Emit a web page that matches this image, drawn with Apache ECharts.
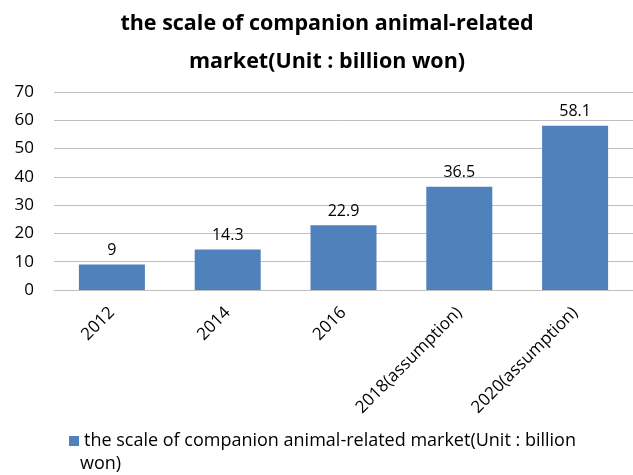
<!DOCTYPE html>
<html><head><meta charset="utf-8">
<script src="https://cdn.jsdelivr.net/npm/echarts@6/dist/echarts.min.js"></script>
<style>html,body{margin:0;padding:0;background:#fff}#c{width:633px;height:475px}</style>
</head><body><div id="c"></div>
<script>
const categories = ['2012','2014','2016','2018(assumption)','2020(assumption)'];
const values = [9, 14.3, 22.9, 36.5, 58.1];
const seriesName = 'the scale of companion animal-related market(Unit : billion won)';
const legendLines = ['the scale of companion animal-related market(Unit : billion', 'won)'];
const titleText = 'the scale of companion animal-related\nmarket(Unit : billion won)';
const font = '"Open Sans", "Noto Sans", sans-serif';
const chart = echarts.init(document.getElementById('c'));
chart.setOption({
  animation: false,
  title: {
    text: titleText, left: 322, top: 0, textAlign: 'center',
    textStyle: {fontFamily: font, fontSize: 21.5, fontWeight: 'bold', color: '#000', lineHeight: 38}
  },
  grid: {left: 54, right: 0, top: 92, bottom: 185, containLabel: false},
  legend: {
    left: 64, top: 427, itemWidth: 10, itemHeight: 10, itemGap: 6,
    icon: 'rect',
    formatter: function () { return legendLines[0]; },
    textStyle: {fontFamily: font, fontSize: 18, color: '#000'},
    data: [seriesName]
  },
  graphic: [{
    type: 'text', left: 80, top: 455,
    style: {text: legendLines[1], fontFamily: font, fontSize: 18, fill: '#000'}
  }],
  xAxis: {
    type: 'category', data: categories,
    axisLine: {lineStyle: {color: '#bfbfbf'}},
    axisTick: {show: false},
    axisLabel: {rotate: 45, fontFamily: font, fontSize: 17, color: '#000', margin: 20, interval: 0}
  },
  yAxis: {
    type: 'value', min: 0, max: 70, interval: 10,
    axisLine: {show: false}, axisTick: {show: false},
    splitLine: {lineStyle: {color: '#bfbfbf'}},
    axisLabel: {fontFamily: font, fontSize: 17, color: '#000', margin: 20}
  },
  series: [{
    name: seriesName, type: 'bar', data: values,
    barCategoryGap: '43%',
    itemStyle: {color: '#4f81bd'},
    label: {show: true, position: 'top', distance: 6, fontFamily: font, fontSize: 16, color: '#000'}
  }]
});
</script></body></html>
